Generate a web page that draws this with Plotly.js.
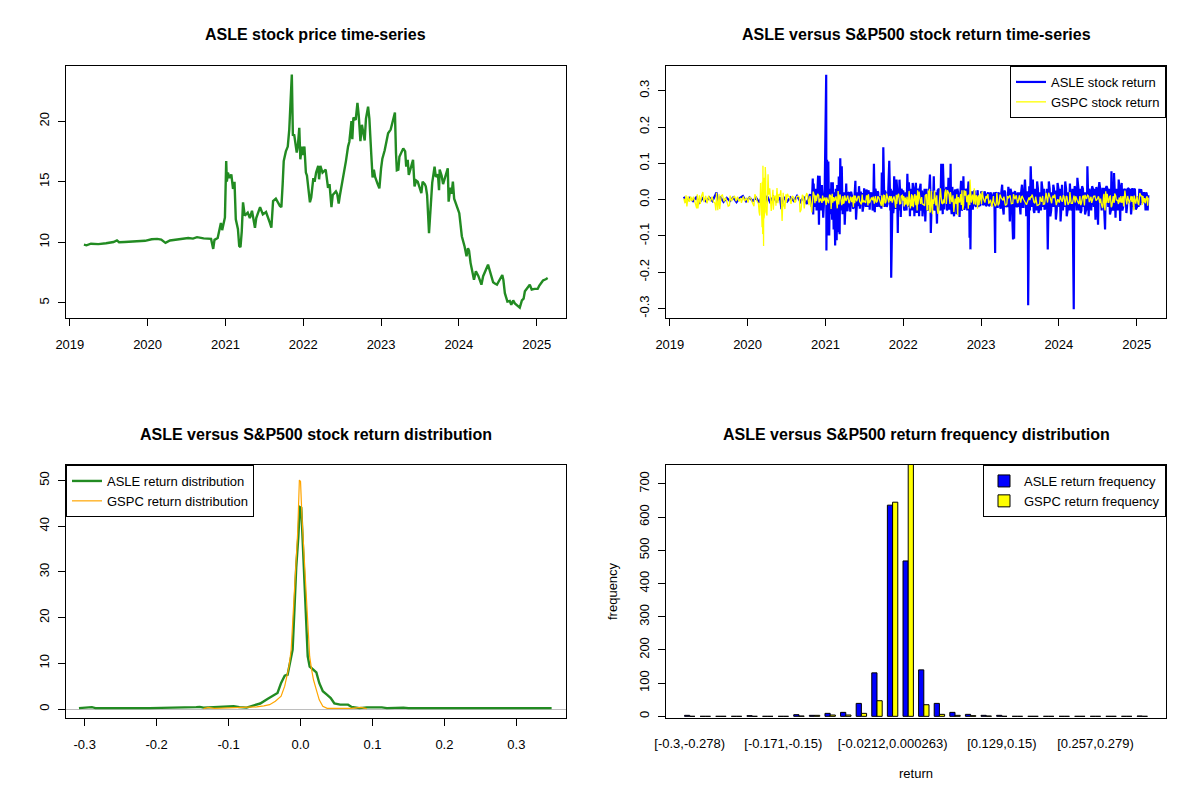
<!DOCTYPE html>
<html>
<head>
<meta charset="utf-8">
<script src="https://cdn.plot.ly/plotly-3.0.1.min.js"></script>
<style>html,body{margin:0;padding:0;background:#fff;}#chart{width:1200px;height:800px;}</style>
</head>
<body>
<div id="chart"></div>
<script>
// ---------- Panel 1: ASLE price ----------
const priceDates = ["2019-03-08","2019-03-20","2019-04-10","2019-05-15","2019-06-20","2019-07-25","2019-08-10","2019-08-20","2019-09-15","2019-10-20","2019-11-20","2019-12-20","2020-01-20","2020-02-15","2020-03-05","2020-03-25","2020-04-15","2020-05-20","2020-06-15","2020-07-10","2020-08-01","2020-08-20","2020-09-20","2020-10-25","2020-11-04","2020-11-10","2020-11-25","2020-12-05","2020-12-10","2020-12-16","2020-12-29","2021-01-04","2021-01-07","2021-01-12","2021-01-20","2021-01-28","2021-02-05","2021-02-12","2021-02-18","2021-02-28","2021-03-06","2021-03-12","2021-03-18","2021-03-24","2021-04-01","2021-04-15","2021-04-25","2021-05-05","2021-05-19","2021-05-25","2021-06-12","2021-06-25","2021-07-10","2021-07-28","2021-08-04","2021-08-12","2021-08-25","2021-09-13","2021-09-20","2021-09-26","2021-10-01","2021-10-11","2021-10-20","2021-10-27","2021-11-02","2021-11-08","2021-11-13","2021-11-19","2021-12-01","2021-12-06","2021-12-13","2021-12-18","2021-12-25","2021-12-30","2022-01-06","2022-01-13","2022-01-18","2022-02-01","2022-02-07","2022-02-17","2022-02-23","2022-03-02","2022-03-12","2022-03-16","2022-03-22","2022-04-01","2022-04-16","2022-04-27","2022-05-04","2022-05-13","2022-05-19","2022-06-03","2022-06-09","2022-06-16","2022-06-21","2022-07-07","2022-07-13","2022-07-20","2022-07-30","2022-08-05","2022-08-15","2022-08-19","2022-08-24","2022-09-04","2022-09-12","2022-09-18","2022-09-26","2022-10-03","2022-10-16","2022-10-22","2022-11-01","2022-11-07","2022-11-16","2022-11-22","2022-11-28","2022-12-04","2022-12-16","2022-12-24","2023-01-01","2023-01-07","2023-01-18","2023-02-03","2023-02-15","2023-02-22","2023-03-07","2023-03-12","2023-03-16","2023-03-23","2023-03-28","2023-04-15","2023-04-24","2023-04-29","2023-05-06","2023-05-11","2023-05-31","2023-06-07","2023-06-15","2023-06-22","2023-07-09","2023-07-15","2023-07-25","2023-07-30","2023-08-05","2023-08-14","2023-08-19","2023-08-23","2023-08-29","2023-09-09","2023-09-15","2023-09-25","2023-09-30","2023-10-03","2023-10-12","2023-10-19","2023-11-10","2023-11-14","2023-11-22","2023-11-28","2023-12-04","2023-12-10","2023-12-28","2024-01-03","2024-01-09","2024-01-15","2024-01-28","2024-02-06","2024-02-13","2024-02-18","2024-02-25","2024-03-12","2024-03-21","2024-04-02","2024-04-16","2024-04-24","2024-05-17","2024-05-23","2024-06-04","2024-06-10","2024-06-18","2024-06-28","2024-07-23","2024-07-28","2024-08-04","2024-08-16","2024-08-27","2024-09-03","2024-09-12","2024-09-20","2024-10-13","2024-10-23","2024-10-31","2024-11-06","2024-11-29","2024-12-08","2024-12-22","2025-01-05","2025-01-12","2025-01-30","2025-02-12","2025-02-21"];
const priceVals = [9.80,9.75,9.88,9.85,9.92,10.02,10.15,10.0,10.02,10.05,10.1,10.12,10.25,10.28,10.22,9.95,10.15,10.22,10.25,10.35,10.3,10.42,10.32,10.28,9.45,10.2,10.35,11.35,11.6,11.0,12.05,16.7,15.0,15.75,15.3,15.6,14.4,15.0,11.9,11.1,9.7,9.6,10.9,13.3,12.2,12.45,12.0,12.6,11.2,12.0,12.9,12.3,12.5,11.6,11.2,13.4,13.6,13.0,12.9,14.8,16.7,17.5,17.9,19.3,22.3,23.85,18.8,18.9,17.4,17.9,19.45,16.85,17.9,17.2,17.9,15.75,15.5,13.3,13.7,15.3,15.0,15.75,16.3,15.2,16.3,15.75,16.0,14.5,14.8,12.9,13.9,14.2,14.0,13.2,13.8,15.3,15.95,16.7,17.9,18.3,20.0,18.5,20.3,20.1,21.5,20.5,18.35,19.7,18.4,20.2,21.2,20.2,17.25,15.35,16.0,15.4,14.8,14.45,16.1,16.9,17.6,19.0,19.3,19.8,20.7,17.35,15.95,16.0,17.05,17.75,17.5,16.25,16.8,15.55,16.8,14.6,15.1,15.0,14.05,15.0,14.8,14.6,13.9,10.75,12.4,14.0,14.9,16.25,15.4,15.6,14.3,16.0,15.5,14.8,16.1,13.35,14.5,14.0,15.0,13.6,12.8,12.4,11.45,10.5,9.65,8.85,9.5,9.3,8.3,6.9,7.6,7.2,6.5,7.2,8.15,7.8,7.05,6.7,6.6,6.5,7.3,6.9,5.8,5.1,5.15,4.85,5.2,4.95,4.6,5.2,5.35,5.95,6.5,6.1,6.15,6.15,6.4,6.85,6.95,7.05];

// ---------- Panel 2: returns (main spikes + band readings) ----------
const asleRetDates = ["2019-03-08","2019-03-20","2019-04-05","2019-04-20","2019-05-05","2019-05-20","2019-06-05","2019-06-20","2019-07-05","2019-07-20","2019-08-02","2019-08-08","2019-08-15","2019-08-25","2019-09-10","2019-09-25","2019-10-10","2019-10-25","2019-11-10","2019-11-25","2019-12-10","2019-12-25","2020-01-10","2020-01-25","2020-02-10","2020-02-25","2020-03-10","2020-03-20","2020-04-01","2020-04-15","2020-05-01","2020-05-15","2020-06-01","2020-06-08","2020-06-20","2020-07-05","2020-07-20","2020-08-05","2020-08-20","2020-09-05","2020-09-20","2020-10-05","2020-10-20","2020-10-28","2020-11-02","2020-11-04","2020-11-06","2020-11-10","2020-11-16","2020-11-20","2020-11-27","2020-12-01","2020-12-04","2020-12-09","2020-12-15","2020-12-21","2020-12-28","2021-01-04","2021-01-05","2021-01-08","2021-01-11","2021-01-14","2021-01-18","2021-01-21","2021-01-25","2021-01-28","2021-02-01","2021-02-04","2021-02-08","2021-02-11","2021-02-15","2021-02-18","2021-02-22","2021-02-25","2021-03-01","2021-03-04","2021-03-08","2021-03-11","2021-03-15","2021-03-18","2021-03-22","2021-03-29","2021-04-01","2021-04-08","2021-04-14","2021-04-22","2021-04-27","2021-05-05","2021-05-14","2021-05-21","2021-05-24","2021-05-31","2021-06-07","2021-06-11","2021-06-18","2021-06-24","2021-07-01","2021-07-06","2021-07-12","2021-07-16","2021-07-21","2021-07-27","2021-08-04","2021-08-10","2021-08-16","2021-08-20","2021-08-26","2021-09-02","2021-09-08","2021-09-16","2021-09-22","2021-09-27","2021-09-29","2021-10-04","2021-10-12","2021-10-19","2021-10-27","2021-11-01","2021-11-05","2021-11-09","2021-11-15","2021-11-19","2021-11-24","2021-11-30","2021-12-06","2021-12-10","2021-12-14","2021-12-20","2021-12-28","2022-01-05","2022-01-12","2022-01-20","2022-01-27","2022-02-01","2022-02-08","2022-02-14","2022-02-22","2022-03-01","2022-03-05","2022-03-10","2022-03-16","2022-03-23","2022-03-28","2022-04-01","2022-04-08","2022-04-14","2022-04-20","2022-04-27","2022-05-06","2022-05-10","2022-05-17","2022-05-24","2022-05-31","2022-06-08","2022-06-14","2022-06-21","2022-06-28","2022-07-05","2022-07-06","2022-07-12","2022-07-19","2022-07-25","2022-08-01","2022-08-08","2022-08-11","2022-08-16","2022-08-22","2022-08-27","2022-09-02","2022-09-08","2022-09-15","2022-09-22","2022-09-29","2022-10-05","2022-10-10","2022-10-14","2022-10-21","2022-10-28","2022-11-03","2022-11-08","2022-11-12","2022-11-16","2022-11-23","2022-12-01","2022-12-08","2022-12-16","2022-12-22","2023-01-02","2023-01-09","2023-01-17","2023-01-24","2023-01-31","2023-02-07","2023-02-14","2023-02-20","2023-02-27","2023-03-05","2023-03-08","2023-03-13","2023-03-20","2023-03-27","2023-04-03","2023-04-10","2023-04-17","2023-04-24","2023-05-02","2023-05-09","2023-05-16","2023-05-23","2023-05-31","2023-06-05","2023-06-09","2023-06-16","2023-06-23","2023-06-29","2023-07-05","2023-07-12","2023-07-19","2023-07-26","2023-08-01","2023-08-08","2023-08-10","2023-08-15","2023-08-22","2023-08-28","2023-09-01","2023-09-08","2023-09-15","2023-09-21","2023-09-28","2023-10-05","2023-10-12","2023-10-19","2023-10-26","2023-11-02","2023-11-10","2023-11-15","2023-11-22","2023-11-29","2023-12-06","2023-12-12","2023-12-18","2023-12-26","2024-01-03","2024-01-09","2024-01-16","2024-01-24","2024-01-31","2024-02-07","2024-02-14","2024-02-22","2024-03-01","2024-03-11","2024-03-15","2024-03-22","2024-03-28","2024-04-05","2024-04-12","2024-04-19","2024-04-26","2024-05-03","2024-05-10","2024-05-14","2024-05-20","2024-05-28","2024-06-05","2024-06-13","2024-06-21","2024-06-28","2024-07-03","2024-07-09","2024-07-17","2024-07-24","2024-08-05","2024-08-12","2024-08-20","2024-08-28","2024-09-04","2024-09-10","2024-09-16","2024-09-23","2024-10-01","2024-10-08","2024-10-15","2024-10-22","2024-10-29","2024-11-05","2024-11-13","2024-11-20","2024-11-28","2024-12-05","2024-12-11","2024-12-19","2024-12-27","2025-01-06","2025-01-13","2025-01-21","2025-01-28","2025-02-04","2025-02-11","2025-02-17","2025-02-21","2025-02-24"];
const asleRetVals = [0.008,-0.006,0.005,-0.004,0.006,-0.008,0.004,-0.005,0.006,-0.004,0.012,0.02,-0.01,0.008,-0.006,0.005,-0.004,0.006,-0.007,0.004,0.01,-0.005,0.006,-0.004,0.005,-0.008,0.012,-0.015,0.01,-0.006,0.008,-0.005,0.006,-0.026,0.007,-0.005,0.006,-0.004,0.01,-0.006,0.008,-0.012,0.015,-0.02,0.058,-0.041,0.044,-0.02,0.03,-0.03,0.066,-0.069,0.066,-0.03,0.04,-0.05,0.03,0.344,-0.14,0.11,-0.099,0.105,-0.099,0.03,-0.04,0.048,-0.055,0.048,-0.082,0.02,-0.126,0.03,-0.112,0.04,-0.09,0.064,-0.095,0.114,-0.03,0.092,-0.04,0.02,-0.069,0.044,-0.032,0.02,-0.033,0.01,-0.02,0.052,-0.055,0.02,0.037,-0.025,0.01,-0.033,0.031,-0.018,0.028,-0.015,0.026,-0.028,0.01,-0.03,0.099,-0.035,0.02,0.023,-0.017,0.01,0.075,-0.02,0.144,-0.02,0.016,-0.01,0.107,-0.03,-0.215,0.02,-0.037,0.064,-0.025,0.055,-0.092,0.01,0.055,-0.048,0.02,-0.03,0.02,0.071,0.048,-0.046,0.01,0.046,-0.046,0.046,-0.037,0.03,-0.046,0.044,-0.02,-0.046,0.02,-0.06,0.03,-0.03,0.069,-0.092,0.02,0.064,-0.03,-0.066,0.03,-0.02,0.099,-0.04,0.099,-0.027,0.02,-0.03,0.06,-0.025,0.099,-0.04,0.01,-0.046,0.028,-0.04,0.02,-0.048,0.052,-0.02,0.064,-0.028,0.03,-0.03,0.05,-0.105,-0.137,0.02,-0.028,0.025,-0.02,0.026,-0.015,0.023,-0.012,0.023,-0.018,0.015,-0.018,0.02,-0.01,0.01,-0.02,-0.147,0.018,-0.02,0.015,-0.025,0.041,-0.041,0.02,-0.015,0.035,-0.06,0.02,-0.11,-0.108,0.023,-0.02,0.02,0.02,-0.041,0.041,-0.02,0.055,-0.046,0.02,-0.291,0.037,0.092,-0.02,0.055,-0.037,0.02,0.05,-0.037,0.02,0.05,-0.02,-0.028,0.02,-0.137,0.05,-0.046,0.02,0.041,-0.02,-0.055,0.046,-0.02,-0.06,0.041,0.01,0.05,-0.046,0.02,0.044,-0.03,-0.302,0.037,-0.02,0.06,-0.03,-0.037,0.037,-0.02,-0.041,0.02,0.092,-0.046,0.01,0.037,-0.02,-0.055,0.02,-0.069,0.048,-0.02,0.03,-0.082,0.037,-0.02,-0.041,0.078,-0.02,0.073,-0.05,0.02,0.055,-0.059,0.046,-0.02,0.02,-0.037,0.032,-0.01,-0.041,0.032,0.028,-0.027,0.01,0.03,0.029,-0.01,0.014,-0.03,0.015,-0.03,0.012];
const asleBandDates = ["2021-04-05","2021-04-11","2021-04-18","2021-04-25","2021-05-01","2021-05-10","2021-05-18","2021-05-27","2021-06-03","2021-06-09","2021-06-15","2021-06-21","2021-06-28","2021-07-09","2021-07-14","2021-07-19","2021-07-24","2021-07-30","2021-08-07","2021-08-13","2021-08-23","2021-08-30","2021-09-05","2021-09-13","2021-09-20","2021-10-07","2021-10-15","2021-10-22","2021-11-03","2021-11-12","2021-11-17","2021-11-22","2021-11-27","2021-12-03","2021-12-08","2021-12-12","2021-12-17","2021-12-23","2022-01-01","2022-01-09","2022-01-16","2022-01-24","2022-01-30","2022-02-04","2022-02-11","2022-02-18","2022-02-25","2022-03-03","2022-03-08","2022-03-13","2022-03-19","2022-03-25","2022-03-30","2022-04-05","2022-04-11","2022-04-17","2022-04-23","2022-05-02","2022-05-08","2022-05-13","2022-05-20","2022-05-27","2022-06-03","2022-06-11","2022-06-17","2022-06-24","2022-07-01","2022-07-09","2022-07-15","2022-07-22","2022-07-28","2022-08-04","2022-08-09","2022-08-13","2022-08-19","2022-08-24","2022-08-30","2022-09-05","2022-09-12","2022-09-19","2022-09-26","2022-10-02","2022-10-08","2022-10-12","2022-10-18","2022-10-25","2022-10-31","2022-11-06","2022-11-10","2022-11-14","2022-11-19","2022-11-27","2022-12-04","2022-12-12","2022-12-19","2022-12-28","2023-01-05","2023-01-13","2023-01-20","2023-01-27","2023-02-03","2023-02-10","2023-02-17","2023-02-23","2023-03-02","2023-03-10","2023-03-16","2023-03-23","2023-03-30","2023-04-06","2023-04-13","2023-04-20","2023-04-27","2023-05-05","2023-05-12","2023-05-19","2023-05-26","2023-06-02","2023-06-07","2023-06-13","2023-06-20","2023-06-27","2023-07-02","2023-07-08","2023-07-15","2023-07-22","2023-07-29","2023-08-04","2023-08-12","2023-08-18","2023-08-25","2023-08-30","2023-09-05","2023-09-12","2023-09-18","2023-09-25","2023-10-02","2023-10-09","2023-10-16","2023-10-23","2023-10-30","2023-11-06","2023-11-13","2023-11-19","2023-11-26","2023-12-03","2023-12-09","2023-12-15","2023-12-22","2023-12-30","2024-01-06","2024-01-12","2024-01-20","2024-01-28","2024-02-04","2024-02-11","2024-02-18","2024-02-26","2024-03-05","2024-03-13","2024-03-19","2024-03-25","2024-04-02","2024-04-09","2024-04-16","2024-04-23","2024-04-30","2024-05-07","2024-05-12","2024-05-17","2024-05-24","2024-06-01","2024-06-09","2024-06-17","2024-06-25","2024-07-01","2024-07-06","2024-07-13","2024-07-20","2024-07-29","2024-08-01","2024-08-08","2024-08-16","2024-08-24","2024-09-01","2024-09-07","2024-09-13","2024-09-19","2024-09-27","2024-10-04","2024-10-11","2024-10-18","2024-10-25","2024-11-01","2024-11-09","2024-11-16","2024-11-24","2024-12-01","2024-12-08","2024-12-15","2024-12-23","2025-01-02","2025-01-09","2025-01-17","2025-01-24","2025-02-01","2025-02-07","2025-02-14"];
const asleBandVals = [0.025,-0.02,0.018,-0.015,0.022,-0.025,0.02,-0.02,-0.018,0.02,0.022,0.018,-0.015,-0.02,0.015,-0.02,0.018,0.02,0.02,-0.015,0.03,-0.02,0.02,-0.018,-0.025,0.025,-0.02,0.02,0.03,0.025,-0.02,0.03,-0.02,0.03,0.02,-0.03,0.02,0.03,0.025,-0.025,-0.03,-0.02,0.02,0.03,-0.03,0.025,0.02,0.02,0.02,0.02,0.03,-0.03,0.025,-0.02,0.03,-0.02,-0.025,0.025,0.02,-0.03,-0.03,-0.02,0.02,0.025,0.03,-0.03,0.03,0.03,0.03,0.035,-0.02,-0.025,0.03,-0.02,0.035,-0.025,0.02,0.02,0.03,-0.02,0.02,-0.03,-0.02,0.02,-0.02,0.02,0.025,0.03,0.02,-0.02,0.02,0.02,-0.015,0.02,-0.02,-0.015,0.02,-0.015,0.018,-0.015,0.02,-0.015,0.015,-0.015,0.02,0.02,-0.02,0.02,-0.015,0.02,-0.02,0.025,-0.02,-0.02,0.02,0.03,-0.02,0.02,0.02,0.015,-0.018,-0.02,-0.02,0.02,-0.02,0.02,0.02,0.02,0.03,-0.03,0.03,0.03,-0.03,0.03,-0.03,0.03,-0.02,-0.03,0.03,0.03,-0.02,0.03,0.02,0.03,-0.03,-0.02,0.03,0.025,-0.03,0.03,0.03,-0.03,-0.03,-0.02,0.03,-0.03,-0.03,-0.02,0.03,-0.02,0.03,-0.03,0.03,0.03,-0.03,0.03,0.02,-0.03,-0.03,0.03,0.03,-0.03,0.03,0.03,0.035,-0.03,0.03,0.03,-0.03,0.03,-0.03,0.03,0.03,0.03,-0.03,-0.03,-0.03,0.03,0.03,-0.03,0.03,0.03,-0.03,0.03,0.03,-0.02,0.03,0.03,-0.02,-0.02,0.03,-0.02,-0.02,-0.015,0.02,0.02,0.02,0.02];

const gspcRetDates = ["2019-03-08","2019-03-13","2019-03-18","2019-03-22","2019-03-28","2019-04-03","2019-04-09","2019-04-15","2019-04-22","2019-04-30","2019-05-07","2019-05-10","2019-05-13","2019-05-20","2019-05-24","2019-05-30","2019-06-05","2019-06-10","2019-06-18","2019-06-25","2019-07-02","2019-07-10","2019-07-18","2019-07-25","2019-08-01","2019-08-05","2019-08-08","2019-08-14","2019-08-20","2019-08-23","2019-08-30","2019-09-05","2019-09-12","2019-09-20","2019-09-26","2019-10-02","2019-10-08","2019-10-11","2019-10-18","2019-10-25","2019-11-01","2019-11-08","2019-11-15","2019-11-21","2019-11-29","2019-12-03","2019-12-12","2019-12-18","2019-12-27","2020-01-03","2020-01-08","2020-01-15","2020-01-24","2020-01-31","2020-02-04","2020-02-10","2020-02-14","2020-02-21","2020-02-24","2020-02-27","2020-03-02","2020-03-05","2020-03-09","2020-03-10","2020-03-12","2020-03-13","2020-03-16","2020-03-17","2020-03-18","2020-03-20","2020-03-24","2020-03-26","2020-03-27","2020-04-01","2020-04-06","2020-04-09","2020-04-14","2020-04-21","2020-04-29","2020-05-01","2020-05-11","2020-05-13","2020-05-18","2020-05-27","2020-06-05","2020-06-11","2020-06-16","2020-06-24","2020-06-29","2020-07-06","2020-07-10","2020-07-23","2020-07-31","2020-08-04","2020-08-14","2020-08-24","2020-09-03","2020-09-08","2020-09-14","2020-09-23","2020-09-29","2020-10-05","2020-10-15","2020-10-26","2020-10-28","2020-11-04","2020-11-09","2020-11-12","2020-11-16","2020-11-19","2020-11-25","2020-12-01","2020-12-08","2020-12-11","2020-12-18","2020-12-22","2020-12-29","2021-01-04","2021-01-06","2021-01-12","2021-01-20","2021-01-27","2021-02-01","2021-02-08","2021-02-12","2021-02-19","2021-02-25","2021-03-01","2021-03-04","2021-03-09","2021-03-18","2021-03-23","2021-03-29","2021-04-01","2021-04-07","2021-04-15","2021-04-20","2021-04-28","2021-05-04","2021-05-12","2021-05-13","2021-05-20","2021-05-27","2021-06-03","2021-06-10","2021-06-18","2021-06-22","2021-06-30","2021-07-08","2021-07-15","2021-07-19","2021-07-21","2021-07-29","2021-08-05","2021-08-10","2021-08-18","2021-08-23","2021-09-01","2021-09-08","2021-09-14","2021-09-20","2021-09-22","2021-09-28","2021-10-05","2021-10-12","2021-10-14","2021-10-21","2021-10-28","2021-11-03","2021-11-10","2021-11-15","2021-11-22","2021-11-26","2021-11-29","2021-12-01","2021-12-06","2021-12-10","2021-12-15","2021-12-20","2021-12-22","2021-12-29","2022-01-05","2022-01-10","2022-01-13","2022-01-19","2022-01-21","2022-01-28","2022-02-03","2022-02-09","2022-02-10","2022-02-17","2022-02-24","2022-03-01","2022-03-07","2022-03-09","2022-03-16","2022-03-23","2022-03-28","2022-04-05","2022-04-11","2022-04-14","2022-04-22","2022-04-26","2022-04-28","2022-05-04","2022-05-05","2022-05-09","2022-05-13","2022-05-18","2022-05-20","2022-05-27","2022-06-03","2022-06-10","2022-06-13","2022-06-16","2022-06-22","2022-06-24","2022-06-30","2022-07-08","2022-07-15","2022-07-19","2022-07-27","2022-08-03","2022-08-10","2022-08-17","2022-08-26","2022-09-01","2022-09-09","2022-09-13","2022-09-16","2022-09-22","2022-09-30","2022-10-03","2022-10-07","2022-10-13","2022-10-18","2022-10-21","2022-10-26","2022-11-02","2022-11-04","2022-11-10","2022-11-16","2022-11-22","2022-11-30","2022-12-06","2022-12-13","2022-12-15","2022-12-22","2022-12-29","2023-01-06","2023-01-12","2023-01-19","2023-01-27","2023-02-02","2023-02-09","2023-02-14","2023-02-21","2023-03-01","2023-03-09","2023-03-16","2023-03-22","2023-03-31","2023-04-06","2023-04-14","2023-04-25","2023-05-02","2023-05-10","2023-05-17","2023-05-23","2023-06-02","2023-06-09","2023-06-15","2023-06-23","2023-06-30","2023-07-06","2023-07-13","2023-07-21","2023-08-02","2023-08-08","2023-08-14","2023-08-18","2023-08-25","2023-08-29","2023-09-06","2023-09-14","2023-09-21","2023-09-26","2023-10-05","2023-10-12","2023-10-20","2023-10-26","2023-11-02","2023-11-09","2023-11-14","2023-11-22","2023-12-01","2023-12-08","2023-12-13","2023-12-20","2023-12-27","2024-01-03","2024-01-12","2024-01-17","2024-01-22","2024-01-31","2024-02-05","2024-02-13","2024-02-20","2024-02-22","2024-03-05","2024-03-12","2024-03-20","2024-03-28","2024-04-04","2024-04-12","2024-04-15","2024-04-22","2024-04-30","2024-05-03","2024-05-10","2024-05-15","2024-05-23","2024-05-31","2024-06-07","2024-06-12","2024-06-24","2024-07-01","2024-07-11","2024-07-15","2024-07-24","2024-07-31","2024-08-02","2024-08-05","2024-08-08","2024-08-15","2024-08-22","2024-08-30","2024-09-03","2024-09-06","2024-09-12","2024-09-18","2024-09-19","2024-09-27","2024-10-03","2024-10-10","2024-10-15","2024-10-23","2024-10-31","2024-11-06","2024-11-11","2024-11-15","2024-11-22","2024-12-02","2024-12-09","2024-12-18","2024-12-20","2024-12-27","2025-01-02","2025-01-07","2025-01-10","2025-01-15","2025-01-21","2025-01-27","2025-02-03","2025-02-06","2025-02-14","2025-02-21","2025-02-24"];
const gspcRetVals = [0.003,-0.01,0.012,-0.019,0.009,-0.006,0.008,-0.004,0.008,-0.01,-0.024,0.015,-0.024,0.012,-0.012,0.01,0.021,-0.007,0.01,-0.01,0.011,-0.005,0.008,-0.006,-0.01,-0.03,0.019,-0.029,0.015,-0.026,0.011,0.013,-0.005,0.006,-0.008,-0.018,-0.016,0.011,-0.004,0.006,0.009,-0.004,0.008,-0.005,0.004,-0.009,0.009,-0.004,0.005,-0.008,0.007,0.005,-0.009,-0.018,0.015,0.007,-0.004,-0.011,-0.034,-0.044,0.046,-0.034,-0.076,0.049,-0.095,0.093,-0.128,0.06,-0.052,-0.043,0.09,0.062,-0.034,-0.044,0.07,0.014,0.031,-0.031,0.027,-0.028,0.01,-0.017,0.032,0.015,0.026,-0.059,0.019,-0.026,0.015,0.016,0.01,-0.012,0.008,0.006,-0.005,0.01,-0.035,-0.028,0.013,-0.024,0.008,0.018,-0.015,-0.019,-0.035,0.022,0.012,-0.01,0.012,-0.004,0.016,-0.008,0.003,-0.006,0.011,-0.004,0.006,-0.015,0.006,-0.007,0.014,-0.026,0.016,0.007,-0.004,0.009,-0.024,0.024,-0.013,0.014,-0.015,0.01,-0.009,0.012,-0.004,0.011,-0.007,0.008,-0.007,-0.021,0.012,0.011,-0.005,0.009,-0.005,-0.013,0.014,-0.003,-0.009,0.01,-0.016,0.015,-0.005,0.006,-0.002,-0.011,0.01,-0.004,0.006,-0.006,-0.017,0.012,-0.02,0.011,-0.006,0.017,-0.003,0.01,-0.004,-0.008,0.004,-0.003,-0.023,0.013,-0.012,0.012,0.016,-0.012,-0.011,0.01,-0.003,-0.019,0.006,-0.014,0.008,-0.019,0.024,-0.024,0.015,-0.018,-0.021,0.015,-0.015,-0.03,0.026,0.022,-0.012,0.007,-0.013,-0.017,0.011,-0.028,-0.028,0.025,0.03,-0.036,-0.032,0.024,-0.04,0.001,0.025,-0.016,-0.029,-0.039,-0.033,0.01,0.031,-0.009,0.001,0.019,0.028,0.026,0.016,0.021,-0.007,-0.034,0.003,0.015,-0.043,0.007,-0.008,-0.015,0.026,-0.028,0.026,0.011,0.024,-0.007,-0.025,0.014,0.055,-0.008,0.014,0.031,-0.014,0.007,-0.025,-0.015,0.017,0.023,0.003,-0.008,0.003,0.015,-0.009,0.0,-0.02,-0.005,-0.018,0.018,-0.016,0.014,0.004,-0.002,-0.016,-0.012,0.005,0.012,-0.011,0.015,0.001,0.012,-0.008,0.012,-0.008,0.009,-0.001,-0.014,-0.004,0.006,-0.001,0.007,0.014,-0.007,0.008,-0.016,-0.015,0.008,-0.006,-0.013,-0.012,0.019,-0.008,0.019,0.004,0.006,0.004,0.014,-0.015,0.001,-0.008,0.001,-0.006,0.012,-0.016,0.01,-0.014,-0.006,0.021,-0.01,0.011,0.009,-0.003,-0.012,-0.015,-0.012,0.009,-0.016,0.013,0.002,0.012,-0.007,0.008,-0.001,0.009,-0.003,0.003,-0.009,0.003,-0.023,0.016,-0.018,-0.03,0.023,0.016,-0.009,0.01,-0.021,-0.017,0.01,-0.003,0.017,-0.001,-0.002,0.006,-0.008,-0.009,-0.019,0.025,0.001,-0.013,0.003,0.002,-0.006,-0.03,0.011,-0.011,0.01,-0.011,-0.015,0.018,0.009,-0.015,-0.008,0.004,0.003,-0.017,0.005];
const gspcBandDates = ["2020-05-05","2020-05-22","2020-06-02","2020-06-19","2020-07-01","2020-07-15","2020-07-28","2020-08-10","2020-08-19","2020-08-31","2020-09-18","2020-10-09","2020-10-20","2020-11-30","2020-12-15","2021-01-15","2021-01-25","2021-02-04","2021-02-16","2021-03-12","2021-03-25","2021-04-12","2021-04-23","2021-05-07","2021-05-18","2021-06-07","2021-06-25","2021-07-12","2021-07-26","2021-08-13","2021-08-27","2021-09-03","2021-10-01","2021-10-07","2021-10-25","2021-11-05","2021-11-18","2021-12-27","2022-01-03","2022-01-25","2022-02-14","2022-03-03","2022-03-11","2022-03-31","2022-04-20","2022-05-02","2022-05-24","2022-06-07","2022-07-05","2022-07-12","2022-07-22","2022-08-08","2022-08-22","2022-09-06","2022-09-27","2022-10-11","2022-10-31","2022-11-09","2022-11-28","2022-12-09","2022-12-20","2023-01-03","2023-01-24","2023-02-06","2023-02-28","2023-03-13","2023-03-27","2023-04-18","2023-05-05","2023-05-30","2023-06-21","2023-07-11","2023-07-27","2023-08-22","2023-09-11","2023-10-03","2023-10-17","2023-11-01","2023-11-28","2023-12-06","2024-01-08","2024-01-25","2024-02-08","2024-02-28","2024-03-18","2024-04-09","2024-04-26","2024-05-20","2024-06-03","2024-06-18","2024-07-05","2024-07-18","2024-07-29","2024-08-13","2024-08-27","2024-09-16","2024-09-24","2024-10-07","2024-10-18","2024-10-28","2024-11-19","2024-11-27","2024-12-05","2024-12-12","2025-01-24","2025-01-30","2025-02-10","2025-02-18"];
const gspcBandVals = [0.009,-0.01,0.012,-0.012,-0.008,0.009,0.01,-0.008,0.008,0.007,0.01,0.009,0.01,0.011,-0.009,-0.01,0.01,-0.008,0.009,0.009,-0.01,0.01,-0.01,0.008,-0.01,0.009,-0.008,0.01,-0.01,0.008,-0.008,0.009,0.012,-0.01,-0.008,0.01,0.009,0.012,0.01,-0.012,0.012,0.011,-0.013,-0.012,0.015,-0.015,-0.012,0.012,-0.012,-0.01,-0.012,-0.012,0.012,-0.012,0.015,-0.015,0.012,-0.015,-0.013,0.012,0.012,-0.012,0.01,-0.01,0.01,-0.012,-0.01,0.008,0.01,-0.01,-0.009,0.008,-0.01,0.009,-0.01,-0.012,0.01,0.012,-0.01,0.011,0.01,0.009,0.008,-0.01,-0.008,0.01,0.011,0.009,-0.009,0.01,0.009,-0.011,0.011,-0.009,0.009,-0.009,0.01,-0.012,0.01,0.01,0.01,-0.01,0.01,0.009,0.012,0.01,-0.01,0.009];

// ---------- Panel 3: densities ----------
const asleDensX = [-0.308,-0.29,-0.285,-0.27,-0.215,-0.21,-0.145,-0.14,-0.135,-0.12,-0.1,-0.093,-0.085,-0.075,-0.067,-0.056,-0.046,-0.04,-0.032,-0.027,-0.022,-0.018,-0.015,-0.011,-0.0085,-0.006,-0.003,-0.001,0.001,0.002,0.005,0.0074,0.01,0.0127,0.018,0.022,0.026,0.031,0.037,0.042,0.047,0.055,0.066,0.071,0.082,0.092,0.113,0.12,0.143,0.15,0.2,0.3,0.341,0.349];
const asleDensY = [0.2,0.4,0.2,0.2,0.3,0.2,0.4,0.45,0.3,0.35,0.45,0.6,0.4,0.3,0.7,1.2,2.2,2.8,3.5,5.7,7.3,7.5,10,13,21.7,31,37.8,44.2,44,40,31,20,11.5,9.3,8.6,8,5.7,3.9,3.1,2.4,1.2,0.95,0.95,0.45,0.2,0.35,0.35,0.2,0.3,0.2,0.2,0.2,0.35,0.2];
const gspcDensX = [-0.135,-0.128,-0.12,-0.1,-0.077,-0.061,-0.051,-0.043,-0.035,-0.027,-0.022,-0.016,-0.013,-0.0095,-0.0074,-0.004,-0.0016,0,0.002,0.005,0.0074,0.01,0.0127,0.0154,0.018,0.022,0.026,0.031,0.037,0.05,0.07,0.084,0.092];
const gspcDensY = [0.1,0.35,0.15,0.2,0.4,0.45,0.7,0.95,1.7,2.8,5,9.3,13,22.4,29,38.5,50.1,49.8,42,34,27.5,18.8,11.5,8.6,6.4,4.2,2.0,0.6,0.15,0.15,0.15,0.35,0.1];

// ---------- Panel 4: frequency ----------
const binBreaks = ["-0.3","-0.278","-0.257","-0.235","-0.214","-0.193","-0.171","-0.15","-0.128","-0.107","-0.0854","-0.064","-0.0426","-0.0212","0.000263","0.0217","0.0431","0.0645","0.0859","0.107","0.129","0.15","0.172","0.193","0.214","0.236","0.257","0.279","0.3","0.322","0.343"];
const asleFreq = [3,0,0,0,2,0,0,5,3,9,12,39,131,636,468,140,39,12,6,3,3,0,0,0,0,0,0,0,0,1];
const gspcFreq = [0,0,0,0,0,0,0,1,3,4,4,9,47,645,790,35,6,3,2,1,0,0,0,0,0,0,0,0,0,0];
const binLabelIdx = [0,6,13,20,26];

// ---------- Tick labels ----------
const yearTickVals = ["2019-01-01","2020-01-01","2021-01-01","2022-01-01","2023-01-01","2024-01-01","2025-01-01"];
const yearTickText = ["2019","2020","2021","2022","2023","2024","2025"];
const retTickVals = [-0.3,-0.2,-0.1,0,0.1,0.2,0.3];
const retTickText = ["-0.3","-0.2","-0.1","0.0","0.1","0.2","0.3"];

// merge two date-sorted readings into one time-ordered series
function mergeSeries(d1, v1, d2, v2){
  const pts = d1.map((d,i)=>[d,v1[i]]).concat(d2.map((d,i)=>[d,v2[i]]));
  pts.sort((a,b)=> a[0] < b[0] ? -1 : (a[0] > b[0] ? 1 : 0));
  return {x: pts.map(p=>p[0]), y: pts.map(p=>p[1])};
}
const asleRet = mergeSeries(asleRetDates, asleRetVals, asleBandDates, asleBandVals);
const gspcRet = mergeSeries(gspcRetDates, gspcRetVals, gspcBandDates, gspcBandVals);

const binLabels = [];
for (let k = 0; k < binBreaks.length - 1; k++) binLabels.push("[" + binBreaks[k] + "," + binBreaks[k+1] + ")");

const W = 1200, H = 800;
const FONT = "Liberation Sans, Arial, Helvetica, sans-serif";
const FS = 13;
function px2x(p){ return p / W; }
function px2y(p){ return 1 - p / H; }
const leftDom = [px2x(66), px2x(566)];
const rightDom = [px2x(666), px2x(1166)];
const topDom = [px2y(318), px2y(66)];
const botDom = [px2y(718), px2y(465)];

function ax(extra){
  return Object.assign({
    showline:true, mirror:true, linecolor:'black', linewidth:1,
    ticks:'outside', ticklen:7, tickwidth:1, tickcolor:'black',
    showgrid:false, zeroline:false, fixedrange:true,
    tickfont:{family:FONT, size:FS, color:'black'}
  }, extra);
}

const traces = [
  {x:priceDates, y:priceVals, type:'scatter', mode:'lines', line:{color:'#228B22', width:2.4}, xaxis:'x', yaxis:'y', showlegend:false, hoverinfo:'skip'},
  {x:asleRet.x, y:asleRet.y, type:'scatter', mode:'lines', name:'ASLE stock return', line:{color:'#0000FF', width:2.2}, xaxis:'x2', yaxis:'y2', legend:'legend'},
  {x:gspcRet.x, y:gspcRet.y, type:'scatter', mode:'lines', name:'GSPC stock return', line:{color:'#FFFF00', width:1.3}, xaxis:'x2', yaxis:'y2', legend:'legend'},
  {x:asleDensX, y:asleDensY, type:'scatter', mode:'lines', name:'ASLE return distribution', line:{color:'#228B22', width:2.4}, xaxis:'x3', yaxis:'y3', legend:'legend2'},
  {x:gspcDensX, y:gspcDensY, type:'scatter', mode:'lines', name:'GSPC return distribution', line:{color:'#FFA500', width:1.2}, xaxis:'x3', yaxis:'y3', legend:'legend2'},
  {x:binLabels, y:asleFreq, type:'bar', name:'ASLE return frequency', marker:{color:'#0000FF', line:{color:'black', width:1}}, xaxis:'x4', yaxis:'y4', legend:'legend3'},
  {x:binLabels, y:gspcFreq, type:'bar', name:'GSPC return frequency', marker:{color:'#FFFF00', line:{color:'black', width:1}}, xaxis:'x4', yaxis:'y4', legend:'legend3'}
];

const legendBase = {bgcolor:'white', bordercolor:'black', borderwidth:1, font:{family:FONT, size:FS, color:'black'}, tracegroupgap:0, itemwidth:30};

const titleFont = {family:FONT, size:16, color:'black'};
const layout = {
  width:W, height:H, autosize:false,
  margin:{l:0, r:0, t:0, b:0},
  paper_bgcolor:'white', plot_bgcolor:'white',
  font:{family:FONT, size:FS, color:'black'},
  showlegend:true,
  barmode:'group', bargap:1/3, bargroupgap:0,
  xaxis: ax({domain:leftDom, anchor:'y', type:'date', range:['2018-12-14','2025-05-18'], tickmode:'array', tickvals:yearTickVals, ticktext:yearTickText, ticklabelstandoff:7}),
  yaxis: ax({domain:topDom, anchor:'x', range:[3.75, 24.55], tickmode:'linear', tick0:5, dtick:5, tickangle:-90, ticklabelstandoff:4}),
  xaxis2: ax({domain:rightDom, anchor:'y2', type:'date', range:['2018-12-14','2025-05-18'], tickmode:'array', tickvals:yearTickVals, ticktext:yearTickText, ticklabelstandoff:7}),
  yaxis2: ax({domain:topDom, anchor:'x2', range:[-0.326, 0.368], tickmode:'array', tickvals:retTickVals, ticktext:retTickText, tickangle:-90, ticklabelstandoff:4}),
  xaxis3: ax({domain:leftDom, anchor:'y3', range:[-0.326, 0.369], tickmode:'array', tickvals:retTickVals, ticktext:retTickText, ticklabelstandoff:7}),
  yaxis3: ax({domain:botDom, anchor:'x3', range:[-1.97, 53.4], tickmode:'linear', tick0:0, dtick:10, tickangle:-90, ticklabelstandoff:4, zeroline:true, zerolinecolor:'#BEBEBE', zerolinewidth:1}),
  xaxis4: ax({domain:rightDom, anchor:'y4', type:'category', range:[-1.52, 30.52], ticks:'', tickmode:'array', tickvals:binLabelIdx.map(i => binLabels[i]), ticktext:binLabelIdx.map(i => binLabels[i]), tickangle:0, ticklabelstandoff:13}),
  yaxis4: ax({domain:botDom, anchor:'x4', range:[-5, 757], tickmode:'linear', tick0:0, dtick:100, tickangle:-90, ticklabelstandoff:4}),
  legend: Object.assign({}, legendBase, {x:px2x(1166), y:px2y(66), xanchor:'right', yanchor:'top'}),
  legend2: Object.assign({}, legendBase, {x:px2x(66), y:px2y(465), xanchor:'left', yanchor:'top'}),
  legend3: Object.assign({}, legendBase, {x:px2x(1166), y:px2y(465), xanchor:'right', yanchor:'top'}),
  annotations: [
    {text:'<b>ASLE stock price time-series</b>', x:px2x(316), y:px2y(35), xref:'paper', yref:'paper', showarrow:false, xanchor:'center', yanchor:'middle', font:titleFont},
    {text:'<b>ASLE versus S&amp;P500 stock return time-series</b>', x:px2x(916), y:px2y(35), xref:'paper', yref:'paper', showarrow:false, xanchor:'center', yanchor:'middle', font:titleFont},
    {text:'<b>ASLE versus S&amp;P500 stock return distribution</b>', x:px2x(316), y:px2y(434), xref:'paper', yref:'paper', showarrow:false, xanchor:'center', yanchor:'middle', font:titleFont},
    {text:'<b>ASLE versus S&amp;P500 return frequency distribution</b>', x:px2x(916), y:px2y(434), xref:'paper', yref:'paper', showarrow:false, xanchor:'center', yanchor:'middle', font:titleFont},
    {text:'return', x:px2x(916), y:px2y(773), xref:'paper', yref:'paper', showarrow:false, xanchor:'center', yanchor:'middle', font:{family:FONT, size:FS, color:'black'}},
    {text:'frequency', x:px2x(612), y:px2y(591), xref:'paper', yref:'paper', showarrow:false, xanchor:'center', yanchor:'middle', textangle:-90, font:{family:FONT, size:FS, color:'black'}}
  ]
};

Plotly.newPlot('chart', traces, layout, {staticPlot:true, displayModeBar:false});
</script>
</body>
</html>
